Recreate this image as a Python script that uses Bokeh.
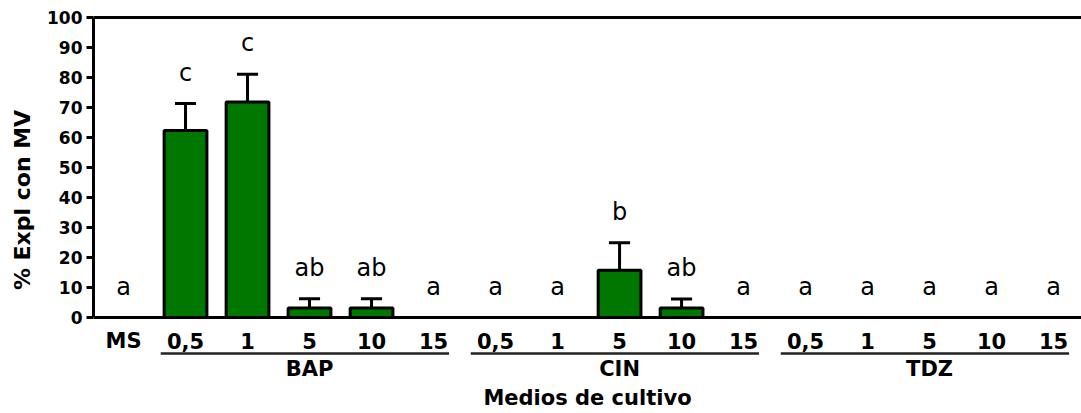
from bokeh.plotting import figure
from bokeh.models import (Range1d, FixedTicker, LinearAxis, Span, ColumnDataSource)
from bokeh.core.properties import value
from bokeh.embed import file_html
from bokeh.resources import INLINE

# ---- data ----
categories = ["MS", "0,5", "1", "5", "10", "15",
              "0,5", "1", "5", "10", "15",
              "0,5", "1", "5", "10", "15"]
groups = ["BAP", "CIN", "TDZ"]
group_members = [[1, 2, 3, 4, 5], [6, 7, 8, 9, 10], [11, 12, 13, 14, 15]]
means = [0, 62.3, 71.8, 3.1, 3.1, 0,
         0, 0, 15.7, 3.1, 0,
         0, 0, 0, 0, 0]
errors = [0, 9.0, 9.3, 3.1, 3.1, 0,
          0, 0, 9.2, 3.0, 0,
          0, 0, 0, 0, 0]
letters = ["a", "c", "c", "ab", "ab", "a",
           "a", "a", "b", "ab", "a",
           "a", "a", "a", "a", "a"]
y_ticks = [0, 10, 20, 30, 40, 50, 60, 70, 80, 90, 100]

FONT = "DejaVu Sans"
idx = list(range(len(categories)))

p = figure(width=1081, height=413, output_backend="svg", toolbar_location=None,
           x_range=Range1d(-0.484, 15.45), y_range=Range1d(-22.7, 101),
           min_border_left=93, min_border_right=0, min_border_top=14,
           min_border_bottom=28, x_axis_type=None, y_axis_type=None)
p.outline_line_color = None
p.xgrid.visible = False
p.ygrid.visible = False
p.background_fill_color = "white"
p.border_fill_color = "white"

# y axis
yaxis = LinearAxis(ticker=FixedTicker(ticks=y_ticks), bounds=(0, 100),
                   axis_label="% Expl con MV")
yaxis.axis_line_width = 3
yaxis.axis_line_color = "black"
yaxis.major_tick_line_width = 3
yaxis.major_tick_line_color = "black"
yaxis.major_tick_out = 7
yaxis.major_tick_in = 0
yaxis.minor_tick_line_color = None
yaxis.major_label_text_font = FONT
yaxis.major_label_text_font_style = "bold"
yaxis.major_label_text_font_size = "17px"
yaxis.major_label_text_color = "black"
yaxis.major_label_standoff = 4
yaxis.axis_label_text_font = FONT
yaxis.axis_label_text_font_style = "bold"
yaxis.axis_label_text_font_size = "22px"
yaxis.axis_label_text_color = "black"
yaxis.axis_label_standoff = 9
p.add_layout(yaxis, "left")

# x axis title only
xaxis = LinearAxis(ticker=FixedTicker(ticks=[]), axis_label="Medios de cultivo")
xaxis.axis_line_color = None
xaxis.major_tick_out = 0
xaxis.major_tick_in = 0
xaxis.major_label_text_font_size = "0px"
xaxis.axis_label_standoff = 0
xaxis.axis_label_text_font = FONT
xaxis.axis_label_text_font_style = "bold"
xaxis.axis_label_text_font_size = "21px"
xaxis.axis_label_text_color = "black"
p.add_layout(xaxis, "below")

# baseline and top line
p.add_layout(Span(location=0, dimension="width", line_color="black", line_width=3))
p.add_layout(Span(location=100, dimension="width", line_color="black", line_width=3))

tops = [m + e for m, e in zip(means, errors)]
src = ColumnDataSource(dict(x=idx, letter=letters, cat=categories,
                            ly=[t + 10.3 for t in tops]))

nz = [i for i in idx if means[i] > 0]
bsrc = ColumnDataSource(dict(x=[idx[i] for i in nz], m=[means[i] for i in nz],
                             top=[tops[i] for i in nz],
                             cl=[idx[i] - 0.17 for i in nz],
                             cr=[idx[i] + 0.17 for i in nz]))

# error bars (upper only)
p.segment(x0="x", y0="m", x1="x", y1="top", source=bsrc, line_color="black", line_width=3)
p.segment(x0="cl", y0="top", x1="cr", y1="top", source=bsrc, line_color="black", line_width=3)

# bars
p.vbar(x="x", top="m", bottom=0, width=0.69, source=bsrc,
       fill_color="#007800", line_color="black", line_width=3)

# significance letters
p.text(x="x", y="ly", text="letter", source=src, text_align="center",
       text_baseline="alphabetic", text_font=value(FONT),
       text_font_size="24px", text_color="black")

# category labels
p.text(x="x", y=-7.8, text="cat", source=src, text_align="center",
       text_baseline="alphabetic", text_font=value(FONT), text_font_style="bold",
       text_font_size="21px", text_color="black")

# group underlines and labels
gc = [sum(g) / len(g) for g in group_members]
gsrc = ColumnDataSource(dict(x=gc, x0=[g[0] - 0.4 for g in group_members],
                             x1=[g[-1] + 0.25 for g in group_members],
                             name=groups))
p.segment(x0="x0", y0=-12, x1="x1", y1=-12, source=gsrc, line_color="#222222", line_width=2.5)
p.text(x="x", y=-17.3, text="name", source=gsrc, text_align="center",
       text_baseline="alphabetic", text_font=value(FONT), text_font_style="bold",
       text_font_size="21px", text_color="black")

open("out.html", "w").write(file_html(p, INLINE))
